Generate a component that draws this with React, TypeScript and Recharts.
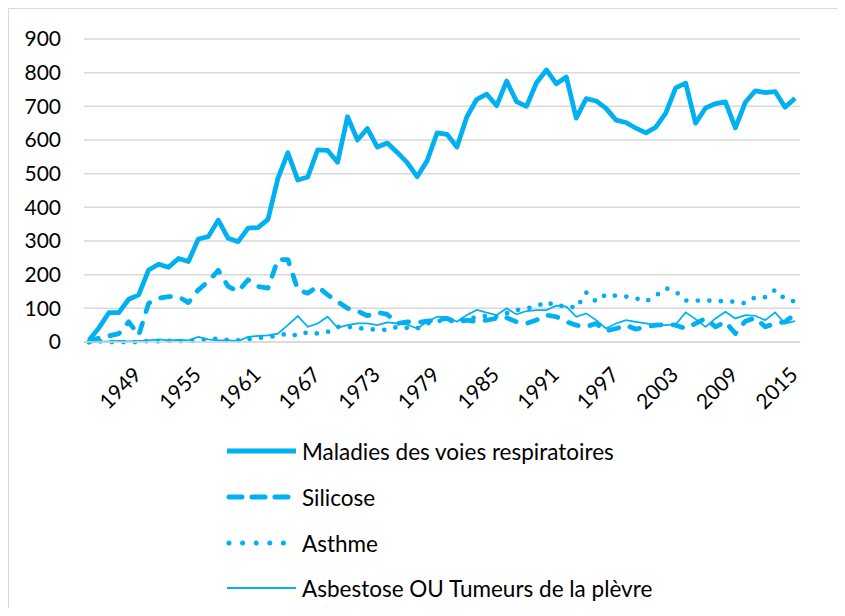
import React from "react";
import { LineChart, Line, XAxis, YAxis, CartesianGrid, Legend } from "recharts";

const years = [
  1944, 1945, 1946, 1947, 1948, 1949, 1950, 1951, 1952, 1953, 1954, 1955,
  1956, 1957, 1958, 1959, 1960, 1961, 1962, 1963, 1964, 1965, 1966, 1967,
  1968, 1969, 1970, 1971, 1972, 1973, 1974, 1975, 1976, 1977, 1978, 1979,
  1980, 1981, 1982, 1983, 1984, 1985, 1986, 1987, 1988, 1989, 1990, 1991,
  1992, 1993, 1994, 1995, 1996, 1997, 1998, 1999, 2000, 2001, 2002, 2003,
  2004, 2005, 2006, 2007, 2008, 2009, 2010, 2011, 2012, 2013, 2014, 2015,
];

const maladies = [
  5, 42, 87, 87, 127, 140, 214, 231, 222, 248, 239, 306,
  313, 362, 308, 298, 338, 340, 364, 486, 562, 481, 490, 571,
  569, 534, 669, 600, 634, 579, 591, 563, 533, 491, 538, 621,
  617, 579, 669, 721, 736, 702, 775, 714, 700, 770, 808, 767,
  787, 665, 723, 716, 694, 659, 652, 635, 621, 638, 680, 755,
  769, 650, 695, 708, 713, 636, 712, 746, 741, 744, 697, 724,
];

const silicose = [
  0, 12, 18, 25, 60, 20, 115, 130, 135, 135, 117, 155,
  180, 213, 165, 150, 185, 165, 160, 245, 245, 155, 145, 165,
  140, 120, 100, 92, 78, 88, 82, 55, 60, 58, 62, 65,
  70, 58, 65, 60, 65, 70, 72, 60, 55, 65, 80, 75,
  60, 50, 45, 55, 33, 40, 50, 38, 45, 50, 52, 50,
  40, 55, 70, 45, 60, 25, 62, 72, 45, 55, 60, 82,
];

const asthme = [
  0, 2, 0, 0, 0, 0, 3, 2, 3, 3, 2, 5,
  8, 10, 6, 5, 8, 12, 15, 18, 26, 18, 30, 25,
  30, 45, 45, 42, 38, 37, 36, 45, 42, 40, 55, 62,
  65, 60, 70, 72, 78, 75, 85, 95, 100, 105, 120, 105,
  110, 100, 147, 120, 142, 137, 135, 130, 120, 137, 160, 150,
  123, 123, 123, 123, 120, 120, 115, 133, 133, 155, 127, 120,
];

const asbestose = [
  0, 0, 2, 3, 2, 3, 5, 8, 5, 6, 5, 15,
  8, 5, 5, 3, 15, 18, 20, 25, 50, 77, 45, 55,
  75, 42, 50, 55, 55, 50, 58, 55, 52, 40, 60, 75,
  75, 60, 80, 95, 87, 80, 100, 82, 92, 95, 95, 108,
  105, 75, 85, 65, 40, 55, 65, 60, 55, 50, 50, 52,
  88, 68, 45, 70, 90, 70, 80, 78, 65, 88, 55, 62,
];

const xTicks = [1949, 1955, 1961, 1967, 1973, 1979, 1985, 1991, 1997, 2003, 2009, 2015];
const yTicks = [0, 100, 200, 300, 400, 500, 600, 700, 800, 900];

const seriesNames = [
  "Maladies des voies respiratoires",
  "Silicose",
  "Asthme",
  "Asbestose OU Tumeurs de la plèvre",
];

const data = years.map((y, i) => ({
  year: y,
  maladies: maladies[i],
  silicose: silicose[i],
  asthme: asthme[i],
  asbestose: asbestose[i],
}));

const COLOR = "#00B0F0";
const FONT = "Lato, 'Open Sans', sans-serif";

const styles = [
  { strokeWidth: 4.75, dash: undefined as string | undefined },
  { strokeWidth: 4.75, dash: "10 12" },
  { strokeWidth: 4.75, dash: "0 11.5" },
  { strokeWidth: 1.75, dash: undefined as string | undefined },
];

const legendDash = [undefined, "13 10", "0 13.6", undefined];

const XTick = (props: any) => {
  const { x, y, payload } = props;
  const ax = x - 2;
  const ay = y + 28;
  return (
    <text
      x={ax}
      y={ay}
      transform={`rotate(-45 ${ax} ${ay})`}
      textAnchor="end"
      dominantBaseline="central"
      fontFamily={FONT}
      fontSize={21}
      fill="#000"
    >
      {payload.value}
    </text>
  );
};

const legendYs = [23, 69, 115, 160];

const renderLegend = () => (
  <svg width={836} height={180} style={{ display: "block" }}>
    {seriesNames.map((name, i) => (
      <g key={name}>
        <line
          x1={i === 1 || i === 2 ? 220 : 218}
          x2={i === 1 || i === 2 ? 285 : 287}
          y1={legendYs[i]}
          y2={legendYs[i]}
          stroke={COLOR}
          strokeWidth={i === 3 ? 2 : 5}
          strokeDasharray={legendDash[i]}
          strokeLinecap={i === 1 || i === 2 ? "round" : "butt"}
        />
        <text
          x={293}
          y={legendYs[i]}
          dominantBaseline="central"
          fontFamily={FONT}
          fontSize={22.5}
          fill="#000"
        >
          {name}
        </text>
      </g>
    ))}
  </svg>
);

export default function App() {
  return (
    <div
      style={{
        borderTop: "1px solid #d9d9d9",
        borderLeft: "1px solid #d9d9d9",
        width: 836,
        height: 599,
        position: "relative",
      }}
    >
      <LineChart
        width={836}
        height={599}
        data={data}
        margin={{ top: 30, right: 45, left: 0, bottom: 0 }}
      >
        <CartesianGrid vertical={false} stroke="#d9d9d9" strokeWidth={1.5} />
        <XAxis
          dataKey="year"
          type="number"
          domain={[1943.5, 2015.5]}
          ticks={xTicks}
          interval={0}
          tickLine={false}
          tickSize={0}
          tickMargin={0}
          axisLine={{ stroke: "#d9d9d9", strokeWidth: 1.5 }}
          tick={<XTick />}
          height={86}
        />
        <YAxis
          domain={[0, 900]}
          ticks={yTicks}
          interval={0}
          width={75}
          axisLine={false}
          tickLine={false}
          tickSize={0}
          tickMargin={23}
          tick={{ fontFamily: FONT, fontSize: 21, fill: "#000" }}
        />
        <Legend
          verticalAlign="bottom"
          content={renderLegend}
          wrapperStyle={{ left: 0, width: 836 }}
        />
        <Line
          dataKey="asbestose"
          name={seriesNames[3]}
          stroke={COLOR}
          strokeWidth={styles[3].strokeWidth}
          dot={false}
          isAnimationActive={false}
          type="linear"
        />
        <Line
          dataKey="asthme"
          name={seriesNames[2]}
          stroke={COLOR}
          strokeWidth={styles[2].strokeWidth}
          strokeDasharray={styles[2].dash}
          strokeLinecap="round"
          dot={false}
          isAnimationActive={false}
          type="linear"
        />
        <Line
          dataKey="silicose"
          name={seriesNames[1]}
          stroke={COLOR}
          strokeWidth={styles[1].strokeWidth}
          strokeDasharray={styles[1].dash}
          strokeLinecap="round"
          strokeLinejoin="round"
          dot={false}
          isAnimationActive={false}
          type="linear"
        />
        <Line
          dataKey="maladies"
          name={seriesNames[0]}
          stroke={COLOR}
          strokeWidth={styles[0].strokeWidth}
          strokeLinejoin="round"
          dot={false}
          isAnimationActive={false}
          type="linear"
        />
      </LineChart>
    </div>
  );
}
